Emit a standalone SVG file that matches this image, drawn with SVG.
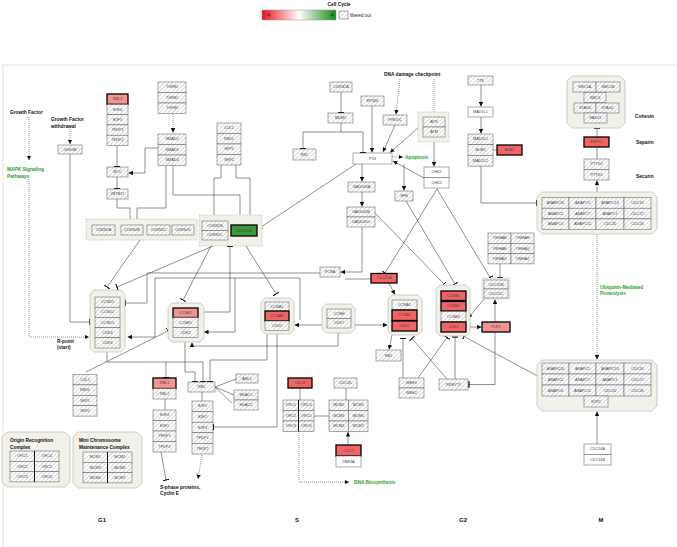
<svg xmlns="http://www.w3.org/2000/svg" width="677" height="547" viewBox="0 0 677 547">
<defs>
<pattern id="h" width="3" height="3" patternUnits="userSpaceOnUse" patternTransform="rotate(45)"><rect width="3" height="3" fill="#fff"/><line x1="0" y1="0" x2="0" y2="3" stroke="#9a9a9a" stroke-width="0.8"/></pattern>
<linearGradient id="lg" x1="0" x2="1" y1="0" y2="0"><stop offset="0" stop-color="#e8141e"/><stop offset="0.5" stop-color="#ffffff"/><stop offset="1" stop-color="#168a16"/></linearGradient>
<marker id="a" viewBox="0 0 6 6" refX="6" refY="3" markerWidth="4.5" markerHeight="4.5" orient="auto" markerUnits="userSpaceOnUse"><path d="M0,0L6,3L0,6z" fill="#111"/></marker>
<marker id="t" viewBox="0 0 2 10" refX="1" refY="5" markerWidth="1.3" markerHeight="6.5" orient="auto" markerUnits="userSpaceOnUse"><rect width="2" height="10" fill="#111"/></marker>
<style>
.h{fill:url(#h);stroke:#555;stroke-width:.5}
.w{fill:#fff;stroke:#555;stroke-width:.5}
.r{fill:#f06464;stroke:#000;stroke-width:1.3}
.p{fill:#f39393;stroke:#000;stroke-width:1.3}
.gr{fill:#3a9a3a;stroke:#000;stroke-width:1.3}
.grp{fill:#f1f0e9;stroke:#c4c4bc;stroke-width:.8}
.dg{fill:#f1f0e9;stroke:#b8b8b0;stroke-width:.6;stroke-dasharray:1.5 1}
text{font-family:'Liberation Sans',Arial,sans-serif}
.l{font-size:3.8px;fill:#444;text-anchor:middle;dominant-baseline:central}
.b{font-size:4.8px;font-weight:bold;fill:#111}
.gt{font-size:4.8px;font-weight:bold;fill:#1fa01f}
.ph{font-size:6px;font-weight:bold;fill:#111;text-anchor:middle}
.c{fill:none;stroke:#333;stroke-width:.55}
.d{stroke-dasharray:1 1}
.ta{marker-end:url(#t)}
.ar{marker-end:url(#a)}
</style>
</defs>
<rect width="677" height="547" fill="#fff"/>
<rect x="3" y="65" width="680" height="490" fill="none" stroke="#e2e2e2" stroke-width="1"/>

<g id="legend">
<text x="339" y="6" class="b" font-size="6" text-anchor="middle">Cell Cycle</text>
<rect x="262" y="10" width="74" height="10" fill="url(#lg)" stroke="#999" stroke-width=".5"/>
<text x="268" y="16.5" font-size="4.5" fill="#222" text-anchor="middle">-4</text>
<text x="332" y="16.5" font-size="4.5" fill="#222" text-anchor="middle">4</text>
<rect x="339" y="11" width="9" height="8" class="h"/>
<text x="350" y="16.5" font-size="4.5" fill="#222">filtered out</text>
</g>

<g id="labels">
<text x="10" y="114" class="b">Growth Factor</text>
<text x="51" y="121" class="b">Growth Factor</text>
<text x="51" y="127.5" class="b">withdrawal</text>
<text x="7" y="171" class="gt">MAPK Signaling</text>
<text x="7" y="177.5" class="gt">Pathways</text>
<text x="384" y="75.5" class="b">DNA damage checkpoint</text>
<text x="405" y="158.5" class="gt">Apoptosis</text>
<text x="635" y="117.5" class="b">Cohesin</text>
<text x="636" y="143.5" class="b">Separin</text>
<text x="636" y="177.5" class="b">Securin</text>
<text x="600" y="288.5" class="gt">Ubiquitin-Mediated</text>
<text x="600" y="295" class="gt">Proteolysis</text>
<text x="57" y="342.5" class="b">R-point</text>
<text x="57" y="349" class="b">(start)</text>
<text x="160" y="488.5" class="b">S-phase proteins,</text>
<text x="160" y="495" class="b">Cyclin E</text>
<text x="354" y="484" class="gt">DNA Biosynthesis</text>
<text x="102" y="522" class="ph">G1</text>
<text x="297" y="522" class="ph">S</text>
<text x="463" y="522" class="ph">G2</text>
<text x="601" y="522" class="ph">M</text>
</g>

<g id="connectors">
<path class="c d ar" d="M29,117V160"/>
<path class="c d ar" d="M29,179V337H89"/>
<path class="c d ar" d="M70,129V144"/>
<path class="c ta" d="M70,154V322H89.5"/>
<path class="c ta" d="M117,146V166.5"/>
<path class="c ta" d="M117,177V188.5"/>
<path class="c ar" d="M158,148H145V173H128.5"/>
<path class="c ar" d="M117,199V208H130V224.5"/>
<path class="c ar" d="M166,166V208H137V224.5"/>
<path class="c d ar" d="M173,114V132.5"/>
<path class="c ar" d="M173,166V195H240V224.5"/>
<path class="c ta" d="M221,165V178H214V220.5"/>
<path class="c ta" d="M236,165V178H250V224.5"/>
<path class="c ar" d="M356,164L258,229"/>
<path class="c ta" d="M140,240L107,287"/>
<path class="c ta" d="M213,246L117,287"/>
<path class="c ta" d="M211,246L183,300"/>
<path class="c ta" d="M246,246L276,294"/>
<path class="c ta" d="M198,312H230V246.5"/>
<path class="c ta" d="M320,273H147V303H125.5"/>
<path class="c ar" d="M300,320V278H155V337H127.5"/>
<path class="c ar" d="M235,278V332H204"/>
<path class="c ar" d="M322,325H294.5"/>
<path class="c ar" d="M355,325H387.5"/>
<path class="c ar" d="M338,333V346H192V342.5"/>
<path class="c ta" d="M267,334V360H210V381.5"/>
<path class="c ta" d="M277,334V427H213.5"/>
<path class="c ta" d="M185,342V372H195V381.5"/>
<path class="c ta" d="M107,352V362H203V381.5"/>
<path class="c ta" d="M166,362V377.5"/>
<path class="c ta" d="M86,372L168,331"/>
<path class="c" d="M215,387L236,379M215,387L234,395M215,387L232,403"/>
<path class="c" d="M202,392V401"/>
<path class="c d ar" d="M202,455L198,479"/>
<path class="c ta" d="M161,452L166,480"/>
<path class="c" d="M165,399V410"/>
<path class="c" d="M300,388V400"/>
<path class="c" d="M314,416H329"/>
<path class="c d ar" d="M299,431V482H349"/>
<path class="c" d="M346,388V400"/>
<path class="c ar" d="M348,445V432"/>
<path class="c ta" d="M341,92V112.5"/>
<path class="c ta" d="M341,123V132H363V152.5"/>
<path class="c ta" d="M341,132H303V148.5"/>
<path class="c ar" d="M372,106V152.5"/>
<path class="c ar" d="M395,125L383,152"/>
<path class="c ar" d="M418,128L390,152.5"/>
<path class="c ar" d="M424,178L393,161"/>
<path class="c d ar" d="M392,157H403"/>
<path class="c d ar" d="M400,79L396,114.5"/>
<path class="c d ar" d="M434,79V116.5"/>
<path class="c ar" d="M434,142V166.5"/>
<path class="c ar" d="M362,164V181.5"/>
<path class="c ar" d="M362,192V206.5"/>
<path class="c ar" d="M404,164V190.5"/>
<path class="c ar" d="M362,227V272H340.5"/>
<path class="c" d="M371,279H345"/>
<path class="c ta" d="M375,213L444,284"/>
<path class="c ta" d="M406,201L455,284"/>
<path class="c ta" d="M437,189L385,273"/>
<path class="c ta" d="M437,189L490,277.5"/>
<path class="c ta" d="M500,263V277.5"/>
<path class="c ar" d="M389,283.5L395,294.5"/>
<path class="c ar" d="M392,335L389,349.5"/>
<path class="c ta" d="M403,378V338.5"/>
<path class="c ta" d="M418,378L447,337.5"/>
<path class="c ta" d="M447,379L412,338.5"/>
<path class="c ta" d="M455,379V337"/>
<path class="c ar" d="M485,298L468,318"/>
<path class="c ar" d="M467,327H481.5"/>
<path class="c ar" d="M495,322V299.5"/>
<path class="c ta" d="M495,332V384.5H469"/>
<path class="c ta" d="M584,401L464,336.5"/>
<path class="c ta" d="M481,166V203H536.5"/>
<path class="c ar" d="M481,85V106.5"/>
<path class="c ar" d="M481,117V133.5"/>
<path class="c" d="M493,150H497"/>
<path class="c ar" d="M597,192V180.5"/>
<path class="c" d="M597,159V147"/>
<path class="c ta" d="M597,137V128.5"/>
<path class="c d ar" d="M597,234V359.5"/>
<path class="c ar" d="M597,444V411.5"/>
</g>

<g id="g-gsk3b"><rect x="58" y="145" width="24" height="9" class="h"/><text x="70" y="149.5" class="l">GSK3B</text></g>
<g id="g-rbl1-top">
<rect x="107" y="94" width="21" height="10.3" class="p"/><text x="117.5" y="99.2" class="l">RBL1</text>
<rect x="107" y="104.3" width="21" height="10.3" class="h"/><text x="117.5" y="109.5" class="l">E2F4</text>
<rect x="107" y="114.6" width="21" height="10.3" class="h"/><text x="117.5" y="119.8" class="l">E2F5</text>
<rect x="107" y="124.9" width="21" height="10.3" class="h"/><text x="117.5" y="130.1" class="l">TFDP1</text>
<rect x="107" y="135.2" width="21" height="10.3" class="h"/><text x="117.5" y="140.4" class="l">TFDP2</text>
</g>
<g id="g-myc"><rect x="107" y="167" width="21" height="10" class="h"/><text x="117.5" y="172" class="l">MYC</text></g>
<g id="g-zbtb17"><rect x="107" y="189" width="21" height="10" class="h"/><text x="117.5" y="194" class="l">ZBTB17</text></g>
<g id="g-tgfb">
<rect x="158" y="82" width="28" height="10.5" class="h"/><text x="172" y="87.3" class="l">TGFB1</text>
<rect x="158" y="92.5" width="28" height="10.5" class="h"/><text x="172" y="97.8" class="l">TGFB2</text>
<rect x="158" y="103" width="28" height="10.5" class="h"/><text x="172" y="108.3" class="l">TGFB3</text>
</g>
<g id="g-smad">
<rect x="158" y="134" width="28" height="10.5" class="h"/><text x="172" y="139.3" class="l">SMAD2</text>
<rect x="158" y="144.5" width="28" height="10.5" class="h"/><text x="172" y="149.8" class="l">SMAD3</text>
<rect x="158" y="155" width="28" height="10.5" class="h"/><text x="172" y="160.3" class="l">SMAD4</text>
</g>
<g id="g-cul1-top">
<rect x="217" y="123" width="24" height="10.5" class="h"/><text x="229" y="128.3" class="l">CUL1</text>
<rect x="217" y="133.5" width="24" height="10.5" class="h"/><text x="229" y="138.8" class="l">RBX1</text>
<rect x="217" y="144" width="24" height="10.5" class="h"/><text x="229" y="149.3" class="l">SKP1</text>
<rect x="217" y="154.5" width="24" height="10.5" class="h"/><text x="229" y="159.8" class="l">SKP2</text>
</g>
<g id="g-cdkn2">
<rect x="86" y="219" width="111" height="21" class="dg"/>
<rect x="92" y="225" width="23" height="10" class="h"/><text x="103.5" y="230" class="l">CDKN2A</text>
<rect x="121" y="225" width="22" height="10" class="h"/><text x="132" y="230" class="l">CDKN2B</text>
<rect x="147" y="225" width="23" height="10" class="h"/><text x="158.5" y="230" class="l">CDKN2C</text>
<rect x="172" y="225" width="22" height="10" class="h"/><text x="183" y="230" class="l">CDKN2D</text>
</g>
<g id="g-cdkn1">
<rect x="199" y="215" width="63" height="31" class="dg"/>
<rect x="202" y="221" width="26" height="9.5" class="h"/><text x="215" y="225.8" class="l">CDKN1B</text>
<rect x="202" y="230.5" width="26" height="9.5" class="h"/><text x="215" y="235.3" class="l">CDKN1C</text>
<rect x="231" y="225" width="26" height="11" class="gr"/><text x="244" y="230.5" class="l">CDKN1A</text>
</g>
<g id="g-cdkn2a-top"><rect x="330" y="82" width="22" height="10" class="h"/><text x="341" y="87" class="l">CDKN2A</text></g>
<g id="g-mdm2"><rect x="328" y="113" width="25" height="10" class="h"/><text x="340.5" y="118" class="l">MDM2</text></g>
<g id="g-rb1-top"><rect x="293" y="149" width="23" height="11" class="h"/><text x="304.5" y="154.5" class="l">RB1</text></g>
<g id="g-ep300"><rect x="361" y="96" width="23" height="10" class="h"/><text x="372.5" y="101" class="l">EP300</text></g>
<g id="g-prkdc"><rect x="383" y="115" width="24" height="10" class="h"/><text x="395" y="120" class="l">PRKDC</text></g>
<g id="g-atr">
<rect x="418" y="112" width="31" height="30" class="dg"/>
<rect x="423" y="117" width="22" height="10" class="h"/><text x="434" y="122" class="l">ATR</text>
<rect x="423" y="127" width="22" height="10" class="h"/><text x="434" y="132" class="l">ATM</text>
</g>
<g id="g-p53"><rect x="353" y="153" width="39" height="11" class="w"/><text x="372.5" y="158.5" class="l">P53</text></g>
<g id="g-chk">
<rect x="424" y="167" width="25" height="10.5" class="w"/><text x="436.5" y="172.3" class="l">CHK1</text>
<rect x="424" y="177.5" width="25" height="10.5" class="w"/><text x="436.5" y="182.8" class="l">CHK2</text>
</g>
<g id="g-gadd45a"><rect x="348" y="182" width="27" height="10" class="h"/><text x="361.5" y="187" class="l">GADD45A</text></g>
<g id="g-gadd45b">
<rect x="347" y="207" width="28" height="10" class="h"/><text x="361" y="212" class="l">GADD45B</text>
<rect x="347" y="217" width="28" height="10" class="h"/><text x="361" y="222" class="l">GADD45G</text>
</g>
<g id="g-sfn"><rect x="395" y="191" width="18" height="10" class="h"/><text x="404" y="196" class="l">SFN</text></g>
<g id="g-ttk"><rect x="468" y="76" width="25" height="9" class="h"/><text x="480.5" y="80.5" class="l">TTK</text></g>
<g id="g-mad1l1"><rect x="468" y="107" width="25" height="10" class="w"/><text x="480.5" y="112" class="l">MAD1L1</text></g>
<g id="g-mad2">
<rect x="468" y="134" width="25" height="10.7" class="h"/><text x="480.5" y="139.3" class="l">MAD2L1</text>
<rect x="468" y="144.7" width="25" height="10.7" class="h"/><text x="480.5" y="150" class="l">BUB3</text>
<rect x="468" y="155.4" width="25" height="10.7" class="h"/><text x="480.5" y="160.7" class="l">MAD2L2</text>
</g>
<g id="g-bub1"><rect x="497" y="145" width="25" height="10" class="r"/><text x="509.5" y="150" class="l">BUB1</text></g>
<g id="g-cohesin">
<path d="M572,76H620L625,81V123L620,128H572L567,123V81Z" class="grp"/>
<rect x="573" y="82" width="23" height="10" class="h"/><text x="584.5" y="87" class="l">SMC1A</text>
<rect x="596" y="82" width="24" height="10" class="h"/><text x="608" y="87" class="l">SMC1B</text>
<rect x="584" y="92.5" width="22" height="10" class="h"/><text x="595" y="97.5" class="l">SMC3</text>
<rect x="574" y="103" width="22" height="10" class="h"/><text x="585" y="108" class="l">STAG1</text>
<rect x="596" y="103" width="23" height="10" class="h"/><text x="607.5" y="108" class="l">STAG2</text>
<rect x="584" y="113" width="23" height="10" class="h"/><text x="595.5" y="118" class="l">RAD21</text>
</g>
<g id="g-espl1"><rect x="584" y="137" width="25" height="10" class="r"/><text x="596.5" y="142" class="l">ESPL1</text></g>
<g id="g-pttg">
<rect x="584" y="159" width="25" height="10.5" class="h"/><text x="596.5" y="164.3" class="l">PTTG2</text>
<rect x="584" y="169.5" width="25" height="10.5" class="h"/><text x="596.5" y="174.8" class="l">PTTG1</text>
</g>
<g id="g-apc-top">
<path d="M542,192H652L657,197V229L652,234H542L537,229V197Z" class="grp"/>
<rect x="542" y="197.5" width="27" height="10.7" class="h"/><text x="555.5" y="202.9" class="l">ANAPC10</text>
<rect x="569" y="197.5" width="27" height="10.7" class="h"/><text x="582.5" y="202.9" class="l">ANAPC5</text>
<rect x="596" y="197.5" width="28" height="10.7" class="h"/><text x="610" y="202.9" class="l">ANAPC13</text>
<rect x="624" y="197.5" width="27" height="10.7" class="h"/><text x="637.5" y="202.9" class="l">CDC16</text>
<rect x="542" y="208.2" width="27" height="10.7" class="h"/><text x="555.5" y="213.6" class="l">ANAPC2</text>
<rect x="569" y="208.2" width="27" height="10.7" class="h"/><text x="582.5" y="213.6" class="l">ANAPC7</text>
<rect x="596" y="208.2" width="28" height="10.7" class="h"/><text x="610" y="213.6" class="l">ANAPC1</text>
<rect x="624" y="208.2" width="27" height="10.7" class="h"/><text x="637.5" y="213.6" class="l">CDC27</text>
<rect x="542" y="218.9" width="27" height="10.7" class="h"/><text x="555.5" y="224.3" class="l">ANAPC4</text>
<rect x="569" y="218.9" width="27" height="10.7" class="h"/><text x="582.5" y="224.3" class="l">ANAPC11</text>
<rect x="596" y="218.9" width="28" height="10.7" class="h"/><text x="610" y="224.3" class="l">CDC20</text>
<rect x="624" y="218.9" width="27" height="10.7" class="h"/><text x="637.5" y="224.3" class="l">CDC26</text>
</g>
<g id="g-apc-bottom">
<path d="M542,360H652L657,365V406L652,411H542L537,406V365Z" class="grp"/>
<rect x="542" y="363" width="27" height="11" class="h"/><text x="555.5" y="368.5" class="l">ANAPC10</text>
<rect x="569" y="363" width="27" height="11" class="h"/><text x="582.5" y="368.5" class="l">ANAPC5</text>
<rect x="596" y="363" width="28" height="11" class="h"/><text x="610" y="368.5" class="l">ANAPC13</text>
<rect x="624" y="363" width="27" height="11" class="h"/><text x="637.5" y="368.5" class="l">CDC16</text>
<rect x="542" y="374" width="27" height="11" class="h"/><text x="555.5" y="379.5" class="l">ANAPC2</text>
<rect x="569" y="374" width="27" height="11" class="h"/><text x="582.5" y="379.5" class="l">ANAPC7</text>
<rect x="596" y="374" width="28" height="11" class="h"/><text x="610" y="379.5" class="l">ANAPC1</text>
<rect x="624" y="374" width="27" height="11" class="h"/><text x="637.5" y="379.5" class="l">CDC27</text>
<rect x="542" y="385" width="27" height="11" class="h"/><text x="555.5" y="390.5" class="l">ANAPC4</text>
<rect x="569" y="385" width="27" height="11" class="h"/><text x="582.5" y="390.5" class="l">ANAPC11</text>
<rect x="596" y="385" width="28" height="11" class="h"/><text x="610" y="390.5" class="l">CDC20</text>
<rect x="624" y="385" width="27" height="11" class="h"/><text x="637.5" y="390.5" class="l">CDC26</text>
<rect x="584" y="396" width="24" height="11" class="h"/><text x="596" y="401.5" class="l">FZR1</text>
</g>
<g id="g-cdc14">
<rect x="584" y="444" width="27" height="10.5" class="w"/><text x="597.5" y="449.3" class="l">CDC14A</text>
<rect x="584" y="454.5" width="27" height="10.5" class="w"/><text x="597.5" y="459.8" class="l">CDC14B</text>
</g>
<g id="g-ywha">
<rect x="488" y="233" width="23" height="10.3" class="h"/><text x="499.5" y="238.2" class="l">YWHAB</text>
<rect x="511" y="233" width="23" height="10.3" class="h"/><text x="522.5" y="238.2" class="l">YWHAH</text>
<rect x="488" y="243.3" width="23" height="10.3" class="h"/><text x="499.5" y="248.5" class="l">YWHAE</text>
<rect x="511" y="243.3" width="23" height="10.3" class="h"/><text x="522.5" y="248.5" class="l">YWHAQ</text>
<rect x="488" y="253.6" width="23" height="10.3" class="h"/><text x="499.5" y="258.8" class="l">YWHAG</text>
<rect x="511" y="253.6" width="23" height="10.3" class="h"/><text x="522.5" y="258.8" class="l">YWHAZ</text>
</g>
<g id="g-cdc25b">
<rect x="482" y="278" width="28" height="21" class="dg"/>
<rect x="484" y="280" width="24" height="9" class="h"/><text x="496" y="284.5" class="l">CDC25B</text>
<rect x="484" y="289" width="24" height="9" class="h"/><text x="496" y="293.5" class="l">CDC25C</text>
</g>
<g id="g-plk1"><rect x="482" y="322" width="28" height="10" class="p"/><text x="496" y="327" class="l">PLK1</text></g>
<g id="g-ccnb">
<path d="M440,285H466L470,289V332L466,336H440L436,332V289Z" class="grp"/>
<rect x="441" y="291" width="25" height="9.5" class="r"/><text x="453.5" y="295.8" class="l">CCNB1</text>
<rect x="441" y="301.5" width="25" height="9.5" class="r"/><text x="453.5" y="306.3" class="l">CCNB2</text>
<rect x="441" y="311.5" width="25" height="10" class="h"/><text x="453.5" y="316.5" class="l">CCNB3</text>
<rect x="441" y="322" width="25" height="10" class="r"/><text x="453.5" y="327" class="l">CDK1</text>
</g>
<g id="g-ccna2-cdk1">
<path d="M392,295H418L422,299V331L418,335H392L388,331V299Z" class="grp"/>
<rect x="392" y="300" width="25" height="9.5" class="h"/><text x="404.5" y="304.8" class="l">CCNA1</text>
<rect x="392" y="310" width="25" height="10.5" class="r"/><text x="404.5" y="315.3" class="l">CCNA2</text>
<rect x="392" y="321" width="25" height="10" class="r"/><text x="404.5" y="326" class="l">CDK1</text>
</g>
<g id="g-cdc25a"><rect x="371" y="273.5" width="26" height="9.5" class="r"/><text x="384" y="278.3" class="l">CDC25A</text></g>
<g id="g-pcna"><rect x="320" y="267" width="20" height="10" class="h"/><text x="330" y="272" class="l">PCNA</text></g>
<g id="g-ccnh">
<path d="M326,304H351L355,308V329L351,333H326L322,329V308Z" class="grp"/>
<rect x="327" y="309" width="24" height="9.5" class="h"/><text x="339" y="313.8" class="l">CCNH</text>
<rect x="327" y="318.5" width="24" height="9.5" class="h"/><text x="339" y="323.3" class="l">CDK7</text>
</g>
<g id="g-rb1-mid"><rect x="376" y="350" width="25" height="11" class="h"/><text x="388.5" y="355.5" class="l">RB1</text></g>
<g id="g-ccne">
<path d="M172,303H200L204,307V338L200,342H172L168,338V307Z" class="grp"/>
<rect x="173" y="308" width="25" height="9.5" class="p"/><text x="185.5" y="312.8" class="l">CCNE2</text>
<rect x="173" y="317.5" width="25" height="10" class="h"/><text x="185.5" y="322.5" class="l">CCNE1</text>
<rect x="173" y="327.5" width="25" height="10" class="h"/><text x="185.5" y="332.5" class="l">CDK2</text>
</g>
<g id="g-ccna1">
<path d="M265,298H290L294,302V330L290,334H265L261,330V302Z" class="grp"/>
<rect x="265" y="302" width="24" height="9" class="h"/><text x="277" y="306.5" class="l">CCNA1</text>
<rect x="265" y="311" width="24" height="10" class="r"/><text x="277" y="316" class="l">CCNA2</text>
<rect x="265" y="321" width="24" height="9.5" class="h"/><text x="277" y="325.8" class="l">CDK2</text>
</g>
<g id="g-ccnd">
<path d="M94,290H121L125,294V348L121,352H94L90,348V294Z" class="grp"/>
<rect x="95" y="297" width="25" height="10.2" class="h"/><text x="107.5" y="302.1" class="l">CCND1</text>
<rect x="95" y="307.2" width="25" height="10.2" class="h"/><text x="107.5" y="312.3" class="l">CCND2</text>
<rect x="95" y="317.4" width="25" height="10.2" class="h"/><text x="107.5" y="322.5" class="l">CCND3</text>
<rect x="95" y="327.6" width="25" height="10.2" class="h"/><text x="107.5" y="332.7" class="l">CDK4</text>
<rect x="95" y="337.8" width="25" height="10.2" class="h"/><text x="107.5" y="342.9" class="l">CDK6</text>
</g>
<g id="g-cul1-bottom">
<rect x="73" y="374.5" width="24" height="10.4" class="h"/><text x="85" y="379.7" class="l">CUL1</text>
<rect x="73" y="384.9" width="24" height="10.4" class="h"/><text x="85" y="390.1" class="l">RBX1</text>
<rect x="73" y="395.3" width="24" height="10.4" class="h"/><text x="85" y="400.5" class="l">SKP1</text>
<rect x="73" y="405.7" width="24" height="10.4" class="h"/><text x="85" y="410.9" class="l">SKP2</text>
</g>
<g id="g-rbl1-bottom">
<rect x="153" y="378" width="23" height="10.5" class="p"/><text x="164.5" y="383.3" class="l">RBL1</text>
<rect x="153" y="388.5" width="23" height="10.5" class="h"/><text x="164.5" y="393.8" class="l">RBL2</text>
</g>
<g id="g-e2f4-bottom">
<rect x="153" y="410" width="23" height="10.5" class="h"/><text x="164.5" y="415.3" class="l">E2F4</text>
<rect x="153" y="420.5" width="23" height="10.5" class="h"/><text x="164.5" y="425.8" class="l">E2F5</text>
<rect x="153" y="431" width="23" height="10.5" class="h"/><text x="164.5" y="436.3" class="l">TFDP1</text>
<rect x="153" y="441.5" width="23" height="10.5" class="h"/><text x="164.5" y="446.8" class="l">TFDP2</text>
</g>
<g id="g-rb1-bottom"><rect x="188" y="382" width="27" height="10" class="h"/><text x="201.5" y="387" class="l">RB1</text></g>
<g id="g-abl1"><rect x="236" y="374" width="22" height="9" class="h"/><text x="247" y="378.5" class="l">ABL1</text></g>
<g id="g-hdac">
<rect x="234" y="390" width="24" height="10" class="h"/><text x="246" y="395" class="l">HDAC1</text>
<rect x="234" y="400" width="24" height="10" class="h"/><text x="246" y="405" class="l">HDAC2</text>
</g>
<g id="g-e2f1">
<rect x="192" y="401" width="21" height="10.6" class="h"/><text x="202.5" y="406.3" class="l">E2F1</text>
<rect x="192" y="411.6" width="21" height="10.6" class="h"/><text x="202.5" y="416.9" class="l">E2F2</text>
<rect x="192" y="422.2" width="21" height="10.6" class="h"/><text x="202.5" y="427.5" class="l">E2F3</text>
<rect x="192" y="432.8" width="21" height="10.6" class="h"/><text x="202.5" y="438.1" class="l">TFDP1</text>
<rect x="192" y="443.4" width="21" height="10.6" class="h"/><text x="202.5" y="448.7" class="l">TFDP2</text>
</g>
<g id="g-cdc6"><rect x="288" y="378" width="24" height="10" class="r"/><text x="300" y="383" class="l">CDC6</text></g>
<g id="g-orc">
<rect x="283" y="400" width="15.5" height="10.5" class="h"/><text x="290.8" y="405.3" class="l">ORC1</text>
<rect x="298.5" y="400" width="15.5" height="10.5" class="h"/><text x="306.3" y="405.3" class="l">ORC4</text>
<rect x="283" y="410.5" width="15.5" height="10.5" class="h"/><text x="290.8" y="415.8" class="l">ORC2</text>
<rect x="298.5" y="410.5" width="15.5" height="10.5" class="h"/><text x="306.3" y="415.8" class="l">ORC5</text>
<rect x="283" y="421" width="15.5" height="10.5" class="h"/><text x="290.8" y="426.3" class="l">ORC3</text>
<rect x="298.5" y="421" width="15.5" height="10.5" class="h"/><text x="306.3" y="426.3" class="l">ORC6</text>
<path d="M298.5,400V431.5" stroke="#111" stroke-width="1"/>
</g>
<g id="g-cdc45"><rect x="334" y="378" width="23" height="10" class="h"/><text x="345.5" y="383" class="l">CDC45</text></g>
<g id="g-mcm">
<rect x="329" y="400" width="19.5" height="10.5" class="h"/><text x="338.8" y="405.3" class="l">MCM2</text>
<rect x="348.5" y="400" width="19.5" height="10.5" class="h"/><text x="358.3" y="405.3" class="l">MCM5</text>
<rect x="329" y="410.5" width="19.5" height="10.5" class="h"/><text x="338.8" y="415.8" class="l">MCM3</text>
<rect x="348.5" y="410.5" width="19.5" height="10.5" class="h"/><text x="358.3" y="415.8" class="l">MCM6</text>
<rect x="329" y="421" width="19.5" height="10.5" class="h"/><text x="338.8" y="426.3" class="l">MCM4</text>
<rect x="348.5" y="421" width="19.5" height="10.5" class="h"/><text x="358.3" y="426.3" class="l">MCM7</text>
</g>
<g id="g-cdc7">
<rect x="336" y="445" width="25" height="11" class="r"/><text x="348.5" y="450.5" class="l">CDC7</text>
<rect x="336" y="456" width="25" height="11" class="w"/><text x="348.5" y="461.5" class="l">DBF4A</text>
</g>
<g id="g-wee">
<rect x="399" y="378" width="25" height="10" class="h"/><text x="411.5" y="383" class="l">WEE1</text>
<rect x="399" y="388" width="25" height="10" class="h"/><text x="411.5" y="393" class="l">WEE2</text>
</g>
<g id="g-pkmyt1"><rect x="439" y="379" width="29" height="11" class="h"/><text x="453.5" y="384.5" class="l">PKMYT1</text></g>
<g id="g-orc-complex">
<path d="M7,432H65L70,437V482L65,487H7L2,482V437Z" class="grp"/>
<text x="10" y="442" class="b" font-size="4.6">Origin Recognition</text>
<text x="10" y="448.5" class="b" font-size="4.6">Complex</text>
<rect x="10" y="451" width="24.5" height="10.3" class="h"/><text x="22.3" y="456.2" class="l">ORC1</text>
<rect x="34.5" y="451" width="24.5" height="10.3" class="h"/><text x="46.8" y="456.2" class="l">ORC4</text>
<rect x="10" y="461.3" width="24.5" height="10.3" class="h"/><text x="22.3" y="466.5" class="l">ORC2</text>
<rect x="34.5" y="461.3" width="24.5" height="10.3" class="h"/><text x="46.8" y="466.5" class="l">ORC5</text>
<rect x="10" y="471.6" width="24.5" height="10.3" class="h"/><text x="22.3" y="476.8" class="l">ORC3</text>
<rect x="34.5" y="471.6" width="24.5" height="10.3" class="h"/><text x="46.8" y="476.8" class="l">ORC6</text>
<path d="M34.5,451V482" stroke="#111" stroke-width="1"/>
</g>
<g id="g-mcm-complex">
<path d="M78,432H137L142,437V483L137,488H78L73,483V437Z" class="grp"/>
<text x="79" y="442" class="b" font-size="4.6">Mini Chromosome</text>
<text x="79" y="448.5" class="b" font-size="4.6">Maintenance Complex</text>
<rect x="83" y="452" width="24.5" height="10.3" class="h"/><text x="95.3" y="457.2" class="l">MCM2</text>
<rect x="107.5" y="452" width="24.5" height="10.3" class="h"/><text x="119.8" y="457.2" class="l">MCM5</text>
<rect x="83" y="462.3" width="24.5" height="10.3" class="h"/><text x="95.3" y="467.5" class="l">MCM3</text>
<rect x="107.5" y="462.3" width="24.5" height="10.3" class="h"/><text x="119.8" y="467.5" class="l">MCM6</text>
<rect x="83" y="472.6" width="24.5" height="10.3" class="h"/><text x="95.3" y="477.8" class="l">MCM4</text>
<rect x="107.5" y="472.6" width="24.5" height="10.3" class="h"/><text x="119.8" y="477.8" class="l">MCM7</text>
<path d="M107.5,452V483" stroke="#111" stroke-width="1"/>
</g>
</svg>
